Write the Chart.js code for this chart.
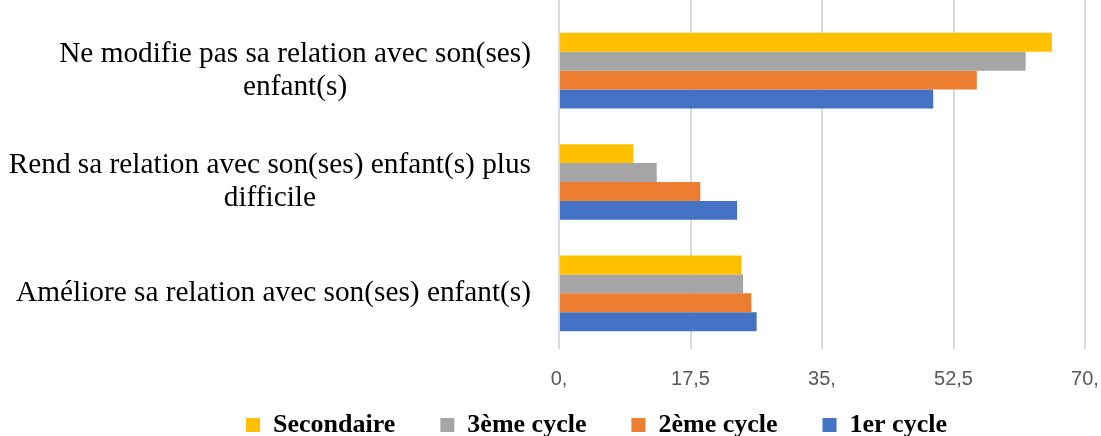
<!DOCTYPE html>
<html>
<head>
<meta charset="utf-8">
<script src="https://cdn.jsdelivr.net/npm/chart.js@4.4.0/dist/chart.umd.min.js"></script>
<style>
  html, body { margin: 0; padding: 0; background: #fff; }
  #wrap { width: 1101px; height: 436px; }
</style>
</head>
<body>
<div id="wrap"><canvas id="relChart"></canvas></div>
<script>
const categories = [
    ['Ne modifie pas sa relation avec son(ses)', 'enfant(s)'],
    ['Rend sa relation avec son(ses) enfant(s) plus', 'difficile'],
    ['Améliore sa relation avec son(ses) enfant(s)']
];
const secondaire = [65.6, 9.9, 24.3];
const cycle3 = [62.1, 13.0, 24.5];
const cycle2 = [55.6, 18.8, 25.6];
const cycle1 = [49.8, 23.7, 26.3];
const xTickLabels = ['0,', '17,5', '35,', '52,5', '70,'];

// category labels: block right aligned, lines centered on each other
const catLabels = {
    id: 'catLabels',
    afterDraw(chart) {
        const ctx = chart.ctx;
        const y = chart.scales.y;
        const right = chart.chartArea.left - 28;
        const lh = 33.5;
        ctx.save();
        ctx.font = '29.3px "Liberation Serif"';
        ctx.fillStyle = '#000';
        ctx.textAlign = 'center';
        ctx.textBaseline = 'middle';
        categories.forEach((lines, i) => {
            const py = y.getPixelForTick(i);
            const w = Math.max(...lines.map(l => ctx.measureText(l).width));
            const cx = right - w / 2;
            const top = py - (lines.length - 1) * lh / 2;
            lines.forEach((l, j) => ctx.fillText(l, cx, top + j * lh));
        });
        ctx.restore();
    }
};

// gridlines run up to the top edge in the original
const gridTop = {
    id: 'gridTop',
    beforeDatasetsDraw(chart) {
        const ctx = chart.ctx;
        const x = chart.scales.x;
        ctx.save();
        ctx.strokeStyle = '#d9d9d9';
        ctx.lineWidth = 2;
        x.ticks.forEach((t, i) => {
            const px = Math.round(x.getPixelForTick(i));
            ctx.beginPath();
            ctx.moveTo(px, 0);
            ctx.lineTo(px, chart.chartArea.top + 1);
            ctx.stroke();
        });
        ctx.restore();
    }
};

// move the legend into place (wide item spacing makes it too tall otherwise)
const legendShift = {
    id: 'legendShift',
    afterLayout(chart) {
        const lg = chart.legend;
        lg.left += 46;
        lg.right += 46;
        lg.top -= 42;
        lg.bottom -= 42;
    }
};

new Chart(document.getElementById('relChart'), {
    type: 'bar',
    data: {
        labels: categories,
        datasets: [
            { label: 'Secondaire', data: secondaire, backgroundColor: '#FFC000' },
            { label: '3ème cycle', data: cycle3, backgroundColor: '#A5A5A5' },
            { label: '2ème cycle', data: cycle2, backgroundColor: '#ED7D31' },
            { label: '1er cycle', data: cycle1, backgroundColor: '#4472C4' }
        ]
    },
    options: {
        indexAxis: 'y',
        responsive: true,
        maintainAspectRatio: false,
        animation: false,
        datasets: {
            bar: {
                categoryPercentage: 0.68,
                barPercentage: 1.0,
                borderWidth: 0
            }
        },
        layout: {
            padding: { top: 15, right: 0, left: 0, bottom: -54 }
        },
        scales: {
            x: {
                min: 0,
                max: 70,
                ticks: {
                    stepSize: 17.5,
                    padding: 18,
                    color: '#595959',
                    font: { family: '"Liberation Sans", Arial', size: 20 },
                    callback: (v, i) => xTickLabels[i]
                },
                grid: { color: '#d9d9d9', lineWidth: 2, drawTicks: false },
                border: { display: false },
                afterFit: (scale) => { scale.paddingRight = 16; }
            },
            y: {
                ticks: { display: false },
                grid: { display: false },
                border: { display: false },
                afterFit: (scale) => { scale.width = 559; }
            }
        },
        plugins: {
            legend: {
                position: 'bottom',
                labels: {
                    boxWidth: 14,
                    boxHeight: 14,
                    padding: 45,
                    color: '#000',
                    font: { family: '"Liberation Serif"', size: 26, weight: 'bold' }
                }
            },
            tooltip: { mode: 'index', intersect: false }
        }
    },
    plugins: [catLabels, gridTop, legendShift]
});
</script>
</body>
</html>
